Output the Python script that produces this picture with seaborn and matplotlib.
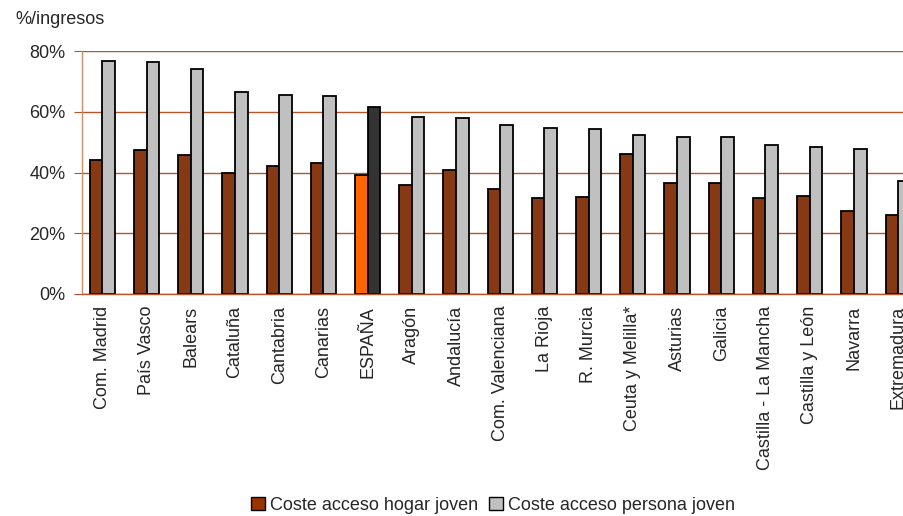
import pandas as pd
import matplotlib
matplotlib.use("Agg")
import matplotlib.pyplot as plt
import seaborn as sns
from matplotlib.patches import Patch
from matplotlib.ticker import FuncFormatter

# Data
regiones = ["Com. Madrid", "País Vasco", "Balears", "Cataluña", "Cantabria", "Canarias",
            "ESPAÑA", "Aragón", "Andalucía", "Com. Valenciana", "La Rioja", "R. Murcia",
            "Ceuta y Melilla*", "Asturias", "Galicia", "Castilla - La Mancha",
            "Castilla y León", "Navarra", "Extremadura"]
hogar = [44.1, 47.5, 45.7, 40.0, 42.1, 43.0, 39.1, 35.9, 40.9, 34.7, 31.6, 32.0,
         46.2, 36.7, 36.5, 31.5, 32.2, 27.3, 26.1]
persona = [76.6, 76.3, 74.1, 66.5, 65.6, 65.3, 61.6, 58.3, 57.8, 55.7, 54.6, 54.4,
           52.2, 51.8, 51.8, 49.2, 48.5, 47.6, 37.2]
series = ["Coste acceso hogar joven", "Coste acceso persona joven"]

df = pd.DataFrame({
    "region": regiones * 2,
    "valor": hogar + persona,
    "serie": [series[0]] * len(regiones) + [series[1]] * len(regiones),
})

sns.set_style("white")
plt.rcParams["font.family"] = ["Liberation Sans", "DejaVu Sans"]

brown = "#993300"
grid_col = "#B5562A"

fig = plt.figure(figsize=(9.04, 5.16), dpi=100)
# plot area runs past the right edge (the source image is cropped)
ax = fig.add_axes([82 / 904, 222 / 516, 840 / 904, 243 / 516])

sns.barplot(data=df, x="region", y="valor", hue="serie", order=regiones,
            palette=[brown, "#C0C0C0"], width=0.57, edgecolor="black",
            linewidth=1.3, ax=ax, legend=False)

# highlight Spain
esp = regiones.index("ESPAÑA")
ax.containers[0][esp].set_facecolor("#FF6600")
ax.containers[1][esp].set_facecolor("#333333")

ax.set_xlim(-0.46, 18.54)
ax.set_ylim(0, 80)
ax.set_yticks([0, 20, 40, 60, 80])
ax.yaxis.set_major_formatter(FuncFormatter(lambda v, p: f"{v:.0f}%"))
ax.set_axisbelow(True)
ax.yaxis.grid(True, color=grid_col, linewidth=1)
ax.xaxis.grid(False)

for s in ["top", "right"]:
    ax.spines[s].set_visible(False)
ax.spines["left"].set_color("#C8906A")
ax.spines["bottom"].set_color(grid_col)
ax.spines["left"].set_linewidth(1)
ax.spines["bottom"].set_linewidth(1)

ax.tick_params(axis="y", left=True, length=6, color=grid_col, labelsize=13, pad=6)
ax.tick_params(axis="x", bottom=False, labelsize=13, pad=5)
plt.setp(ax.get_xticklabels(), rotation=90, va="top", ha="center")
ax.set_xlabel("")
ax.set_ylabel("")

fig.text(15 / 904, 1 - 20 / 516, "%/ingresos", fontsize=13, va="center", ha="left")

handles = [Patch(facecolor=brown, edgecolor="black"),
           Patch(facecolor="#C0C0C0", edgecolor="black")]
fig.legend(handles, series, loc="center", bbox_to_anchor=(493 / 904, 1 - 505 / 516),
           ncol=2, frameon=False, fontsize=13, handlelength=0.75, handleheight=0.75,
           handletextpad=0.3, columnspacing=0.6)

fig.savefig("out.png", dpi=100)
